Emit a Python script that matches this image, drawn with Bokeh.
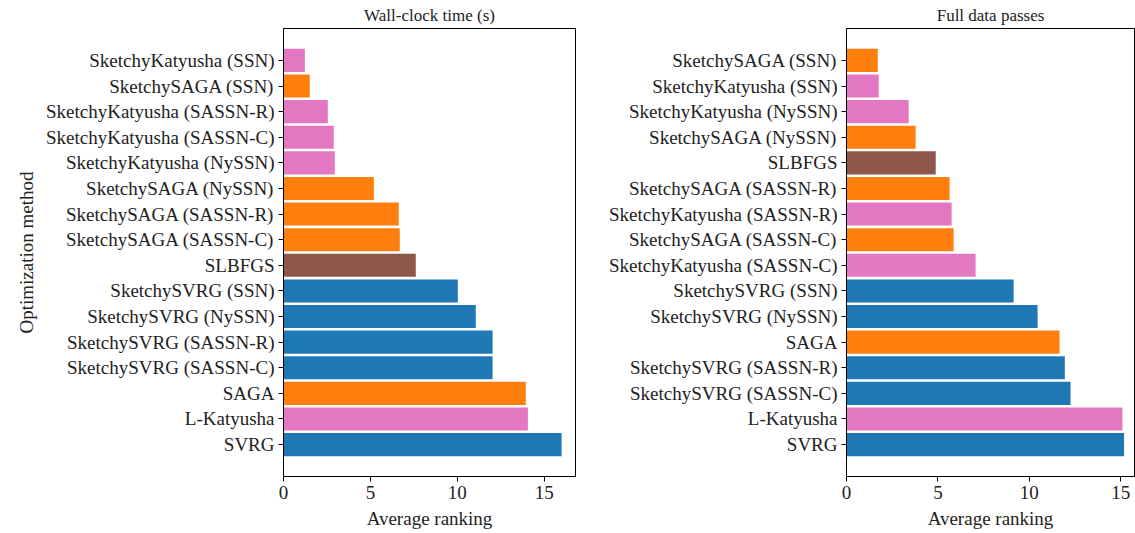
from bokeh.plotting import figure
from bokeh.layouts import row
from bokeh.models import Range1d, FixedTicker, ColumnDataSource
from bokeh.embed import file_html
from bokeh.resources import INLINE

# ---- data (listed top to bottom as shown) ----
wall_methods = [
    "SketchyKatyusha (SSN)", "SketchySAGA (SSN)", "SketchyKatyusha (SASSN-R)",
    "SketchyKatyusha (SASSN-C)", "SketchyKatyusha (NySSN)", "SketchySAGA (NySSN)",
    "SketchySAGA (SASSN-R)", "SketchySAGA (SASSN-C)", "SLBFGS", "SketchySVRG (SSN)",
    "SketchySVRG (NySSN)", "SketchySVRG (SASSN-R)", "SketchySVRG (SASSN-C)",
    "SAGA", "L-Katyusha", "SVRG",
]
wall_ranks = [1.23, 1.51, 2.55, 2.89, 2.95, 5.20, 6.63, 6.69, 7.61, 10.03,
              11.06, 12.03, 12.03, 13.94, 14.06, 16.0]

pass_methods = [
    "SketchySAGA (SSN)", "SketchyKatyusha (SSN)", "SketchyKatyusha (NySSN)",
    "SketchySAGA (NySSN)", "SLBFGS", "SketchySAGA (SASSN-R)",
    "SketchyKatyusha (SASSN-R)", "SketchySAGA (SASSN-C)", "SketchyKatyusha (SASSN-C)",
    "SketchySVRG (SSN)", "SketchySVRG (NySSN)", "SAGA", "SketchySVRG (SASSN-R)",
    "SketchySVRG (SASSN-C)", "L-Katyusha", "SVRG",
]
pass_ranks = [1.71, 1.76, 3.40, 3.78, 4.88, 5.64, 5.75, 5.86, 7.06, 9.14,
              10.45, 11.65, 11.94, 12.25, 15.09, 15.18]

x_ticks = [0, 5, 10, 15]
titles = ["Wall-clock time (s)", "Full data passes"]

FAMILY_COLORS = {"SVRG": "#1f77b4", "SAGA": "#ff7f0e", "Katyusha": "#e377c2", "SLBFGS": "#8c564b"}


def color_for(name):
    for key in ["SLBFGS", "Katyusha", "SAGA", "SVRG"]:
        if key in name:
            return FAMILY_COLORS[key]
    return "#1f77b4"


FONT = "Liberation Serif"
LABEL_SIZE = "19px"


def make_panel(methods, ranks, title, xmax, width, border_left, border_right, ylabel=None):
    n = len(methods)
    names = list(reversed(methods))
    vals = list(reversed(ranks))
    pos = list(range(n))
    src = ColumnDataSource(dict(y=pos, right=vals, color=[color_for(m) for m in names]))
    p = figure(width=width, height=531, output_backend="svg", toolbar_location=None,
               x_range=Range1d(0, xmax), y_range=Range1d(-1.245, n - 1 + 1.245),
               min_border_left=border_left, min_border_right=border_right,
               min_border_top=26, min_border_bottom=50)
    p.hbar(y="y", right="right", left=0, height=0.9, color="color", line_color=None, source=src)
    p.title.text = title
    p.title.align = "center"
    p.title.text_font = FONT
    p.title.text_font_size = "17px"
    p.title.text_font_style = "normal"
    p.title.text_color = "#222222"
    p.title.standoff = 7
    p.title.offset = 0

    p.xgrid.visible = False
    p.ygrid.visible = False
    p.outline_line_color = "black"
    p.outline_line_width = 1
    p.outline_line_alpha = 1

    p.xaxis.ticker = FixedTicker(ticks=x_ticks)
    p.xaxis.minor_tick_line_color = None
    p.xaxis.axis_label = "Average ranking"
    p.yaxis.ticker = FixedTicker(ticks=pos)
    p.yaxis.minor_tick_line_color = None
    p.yaxis.major_label_overrides = {i: names[i] for i in pos}
    if ylabel:
        p.yaxis.axis_label = ylabel
    for ax in (p.xaxis[0], p.yaxis[0]):
        ax.major_label_text_font = FONT
        ax.major_label_text_font_size = LABEL_SIZE
        ax.major_label_text_color = "#222222"
        ax.axis_label_text_font = FONT
        ax.axis_label_text_font_size = LABEL_SIZE
        ax.axis_label_text_font_style = "normal"
        ax.axis_label_text_color = "#222222"
        ax.major_tick_out = 5
        ax.major_tick_in = 0
        ax.major_tick_line_color = "black"
        ax.axis_line_color = "black"
        ax.major_label_standoff = 4
        ax.axis_label_standoff = 6
    return p


p1 = make_panel(wall_methods, wall_ranks, titles[0], 16.8, 582, 283, 7, ylabel="Optimization method")
p2 = make_panel(pass_methods, pass_ranks, titles[1], 15.75, 553, 264, 1)

layout = row(p1, p2)
open("out.html", "w").write(file_html(layout, INLINE))
